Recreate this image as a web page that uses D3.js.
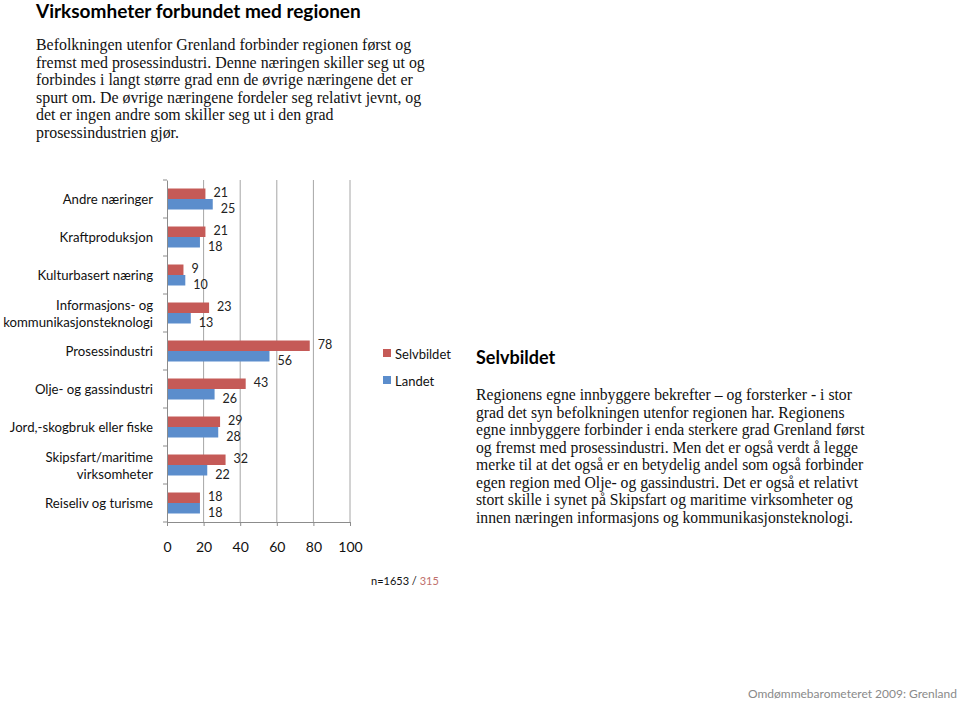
<!DOCTYPE html>
<html><head><meta charset="utf-8">
<script src="https://cdn.jsdelivr.net/npm/d3@7"></script>
<style>
body{margin:0;background:#fff;}
svg{display:block;}
</style></head>
<body>
<svg id="c" width="960" height="702"></svg>
<script>
const categories = ["Andre næringer","Kraftproduksjon","Kulturbasert næring","Informasjons- og\nkommunikasjonsteknologi","Prosessindustri","Olje- og gassindustri","Jord,-skogbruk eller fiske","Skipsfart/maritime\nvirksomheter","Reiseliv og turisme"];
const selvbildet = [21,21,9,23,78,43,29,32,18];
const landet = [25,18,10,13,56,26,28,22,18];
const seriesNames = ["Selvbildet","Landet"];
const xTicks = [0,20,40,60,80,100];
const title = "Virksomheter forbundet med regionen";
const introLines = ["Befolkningen utenfor Grenland forbinder regionen først og","fremst med prosessindustri. Denne næringen skiller seg ut og","forbindes i langt større grad enn de øvrige næringene det er","spurt om. De øvrige næringene fordeler seg relativt jevnt, og","det er ingen andre som skiller seg ut i den grad","prosessindustrien gjør."];
const sideTitle = "Selvbildet";
const sideLines = ["Regionens egne innbyggere bekrefter – og forsterker - i stor","grad det syn befolkningen utenfor regionen har. Regionens","egne innbyggere forbinder i enda sterkere grad Grenland først","og fremst med prosessindustri. Men det er også verdt å legge","merke til at det også er en betydelig andel som også forbinder","egen region med Olje- og gassindustri. Det er også et relativt","stort skille i synet på Skipsfart og maritime virksomheter og","innen næringen informasjons og kommunikasjonsteknologi."];
const footer = "Omdømmebarometeret 2009: Grenland";

const colors = ["#c55a57","#5b8dcc"];
const sans = "Lato, 'Open Sans', sans-serif";
const serif = "'Liberation Serif', serif";

const svg = d3.select("#c");

// Title
svg.append("text").attr("x",36).attr("y",18).attr("font-family",sans).attr("font-weight","bold")
  .attr("font-size",19).attr("fill","#000").text(title);

// Intro paragraph
svg.append("g").selectAll("text").data(introLines).join("text")
  .attr("x",36).attr("y",(d,i)=>50+i*17.6).attr("font-family",serif).attr("font-size",15.9)
  .attr("fill","#111").text(d=>d);

// Scales
const x = d3.scaleLinear().domain([0,100]).range([167,350]);
const y = d3.scaleBand().domain(categories).range([180,522]).paddingInner(0).paddingOuter(0);
const ys = d3.scaleBand().domain(seriesNames).range([0,y.bandwidth()]).paddingInner(0).paddingOuter(0.81);

// gridlines
svg.append("g").selectAll("line").data(xTicks.slice(1)).join("line")
  .attr("x1",d=>x(d)).attr("x2",d=>x(d)).attr("y1",180).attr("y2",522)
  .attr("stroke","#a6a6a6").attr("stroke-width",1);

// bars
const data = categories.map((c,i)=>({c, vals:[selvbildet[i], landet[i]]}));
const gCat = svg.append("g").selectAll("g").data(data).join("g")
  .attr("transform",d=>`translate(0,${y(d.c)})`);
gCat.selectAll("rect").data(d=>d.vals.map((v,j)=>({v,s:seriesNames[j],j}))).join("rect")
  .attr("x",x(0)).attr("y",d=>ys(d.s)).attr("width",d=>x(d.v)-x(0)).attr("height",ys.bandwidth())
  .attr("fill",d=>colors[d.j]);
gCat.selectAll("text.v").data(d=>d.vals.map((v,j)=>({v,s:seriesNames[j],j}))).join("text")
  .attr("class","v").attr("x",d=>x(d.v)+8).attr("y",d=>ys(d.s)+ys.bandwidth()/2+(d.j===0?3.5:8.5))
  .attr("font-family",sans).attr("font-size",12.5).attr("fill","#222").text(d=>d.v);

// y axis
const yAxis = d3.axisLeft(y).tickSize(0).tickFormat("");
const ya = svg.append("g").attr("transform",`translate(${x(0)},0)`).call(yAxis);
ya.select(".domain").attr("stroke","#8c8c8c");
svg.append("g").selectAll("line").data(d3.range(categories.length+1)).join("line")
  .attr("x1",x(0)-4).attr("x2",x(0)).attr("y1",i=>180+i*y.step()).attr("y2",i=>180+i*y.step())
  .attr("stroke","#8c8c8c");

// category labels
svg.append("g").selectAll("text").data(categories).join("text")
  .attr("text-anchor","end").attr("font-family",sans).attr("font-size",13.2).attr("fill","#111")
  .each(function(d){
    const lines = d.split("\n");
    const cy = y(d)+y.bandwidth()/2;
    const t = d3.select(this);
    lines.forEach((l,k)=>{
      t.append("tspan").attr("x",153).attr("y",cy+5+(k-(lines.length-1)/2)*17).text(l);
    });
  });

// x axis
const xAxis = d3.axisBottom(x).tickValues(xTicks).tickSize(4).tickPadding(16);
const xa = svg.append("g").attr("transform","translate(0,522)").call(xAxis);
xa.select(".domain").attr("stroke","#8c8c8c");
xa.selectAll(".tick line").attr("stroke","#8c8c8c");
xa.selectAll(".tick text").attr("font-family",sans).attr("font-size",14).attr("fill","#111");

// legend
const lg = svg.append("g").selectAll("g").data(seriesNames).join("g")
  .attr("transform",(d,i)=>`translate(383,${349+i*27})`);
lg.append("rect").attr("width",8).attr("height",8).attr("fill",(d,i)=>colors[i]);
lg.append("text").attr("x",12).attr("y",9.5).attr("font-family",sans).attr("font-size",13)
  .attr("fill","#111").text(d=>d);

// n
const nt = svg.append("text").attr("x",371).attr("y",585).attr("font-family",sans).attr("font-size",11).attr("fill","#111");
nt.append("tspan").text("n=1653 / ");
nt.append("tspan").attr("fill","#c0706d").text("315");

// side text
svg.append("text").attr("x",476).attr("y",364).attr("font-family",sans).attr("font-weight","bold")
  .attr("font-size",18).attr("fill","#000").text(sideTitle);
svg.append("g").selectAll("text").data(sideLines).join("text")
  .attr("x",476).attr("y",(d,i)=>400+i*17.5).attr("font-family",serif).attr("font-size",15.7)
  .attr("fill","#111").text(d=>d);

// footer
svg.append("text").attr("x",957).attr("y",698).attr("text-anchor","end").attr("font-family",sans)
  .attr("font-size",12).attr("fill","#8a8a8a").text(footer);
</script>
</body></html>
